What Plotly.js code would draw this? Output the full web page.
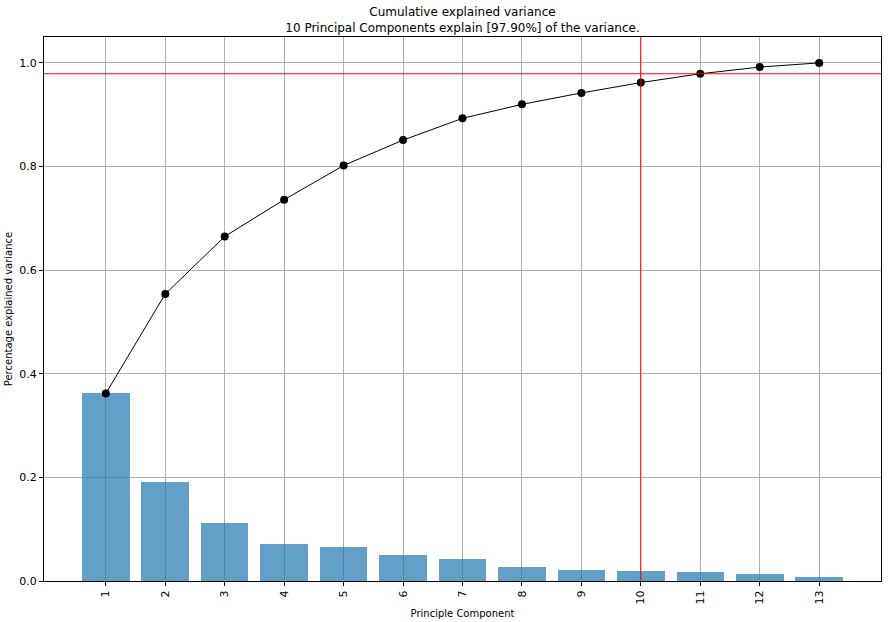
<!DOCTYPE html>
<html>
<head>
<meta charset="utf-8">
<script src="https://cdn.plot.ly/plotly-3.0.1.min.js"></script>
<style>
  html, body { margin: 0; padding: 0; background: #fff; }
  #chart { width: 888px; height: 622px; }
</style>
</head>
<body>
<div id="chart"></div>
<script>
// PCA explained variance
var components = [1, 2, 3, 4, 5, 6, 7, 8, 9, 10, 11, 12, 13];
var explained = [0.362, 0.192, 0.111, 0.0707, 0.0656, 0.0494, 0.0424, 0.0268, 0.0222, 0.0193, 0.0174, 0.0130, 0.0080];
var cumulative = [0.362, 0.554, 0.665, 0.736, 0.802, 0.851, 0.893, 0.920, 0.942, 0.962, 0.979, 0.992, 1.000];
var nComponents = 10;
var threshold = 0.979;

var bars = {
    x: components,
    y: explained,
    type: 'bar',
    width: 0.8,
    marker: { color: 'rgba(31,119,180,0.7)', line: { width: 0 } },
    hoverinfo: 'x+y'
};

var cumLine = {
    x: components,
    y: cumulative,
    type: 'scatter',
    mode: 'lines+markers',
    line: { color: 'black', width: 1 },
    marker: { color: 'black', size: 8 }
};

var axisCommon = {
    showgrid: true,
    gridcolor: '#b0b0b0',
    gridwidth: 1,
    zeroline: false,
    showline: true,
    linecolor: 'black',
    linewidth: 1,
    mirror: true,
    ticks: 'outside',
    ticklen: 4,
    tickcolor: 'black',
    tickfont: { size: 11, color: 'black' }
};

var layout = {
    width: 888,
    height: 622,
    margin: { l: 44, r: 7, t: 37, b: 41 },
    paper_bgcolor: 'white',
    plot_bgcolor: 'white',
    font: { family: 'DejaVu Sans, sans-serif', size: 10, color: 'black' },
    showlegend: false,
    bargap: 0,
    title: {
        text: 'Cumulative explained variance<br>' + nComponents + ' Principal Components explain [' + (threshold * 100).toFixed(2) + '%] of the variance.',
        font: { size: 12, color: 'black' },
        x: 0.5,
        xref: 'paper',
        xanchor: 'center',
        y: 0.974,
        yref: 'container',
        yanchor: 'top'
    },
    xaxis: Object.assign({}, axisCommon, {
        range: [-0.04, 14.04],
        tickmode: 'array',
        tickvals: components,
        ticktext: components.map(String),
        tickangle: -90,
        title: { text: 'Principle Component', font: { size: 10 }, standoff: 6 }
    }),
    yaxis: Object.assign({}, axisCommon, {
        range: [0, 1.05],
        tickvals: [0, 0.2, 0.4, 0.6, 0.8, 1.0],
        tickformat: '.1f',
        title: { text: 'Percentage explained variance', font: { size: 10 }, standoff: 4 }
    }),
    shapes: [
        { type: 'line', xref: 'paper', x0: 0, x1: 1, yref: 'y', y0: threshold, y1: threshold,
          line: { color: 'red', width: 1 } },
        { type: 'line', xref: 'x', x0: nComponents, x1: nComponents, yref: 'paper', y0: 0, y1: 1,
          line: { color: 'red', width: 1 } }
    ]
};

Plotly.newPlot('chart', [bars, cumLine], layout, { displayModeBar: false, staticPlot: true });
</script>
</body>
</html>
